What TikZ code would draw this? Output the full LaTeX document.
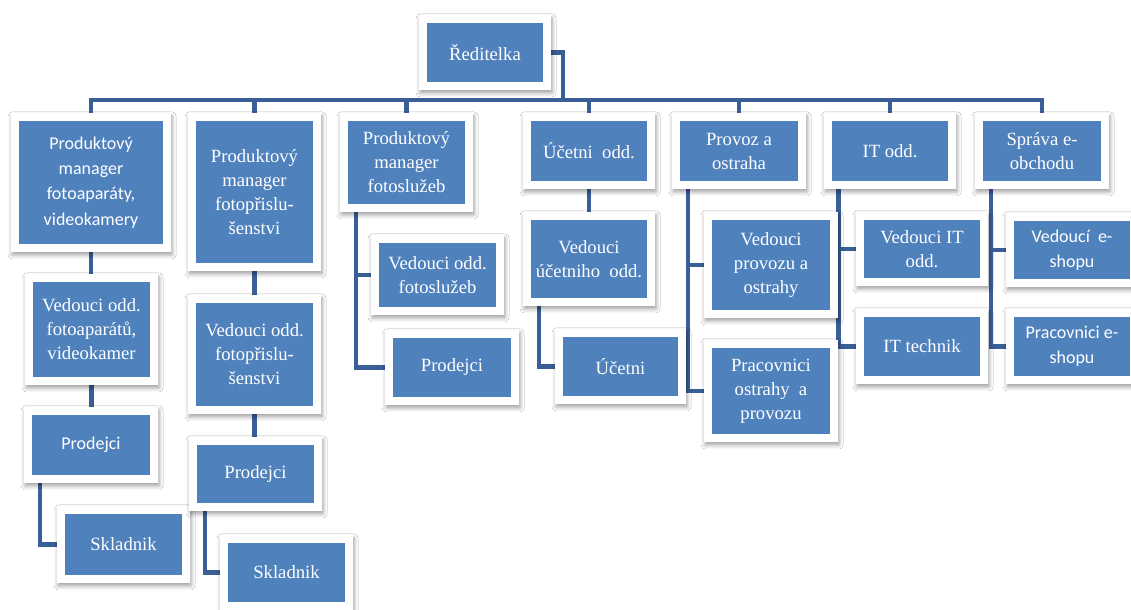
\documentclass[tikz,border=0pt]{standalone}
\usepackage{fontspec}
\setmainfont{Liberation Serif}
\newfontfamily\sansf{Carlito}
\usetikzlibrary{shadows.blur,backgrounds}
\definecolor{boxblue}{HTML}{4F81BD}
\definecolor{connblue}{HTML}{3A5E96}
\newcommand\orgnode[7]{\node[orgbox,#6,minimum width={(#4-#2+16)*0.75pt},minimum height={(#5-#3+16)*0.75pt}] (#1) at ({(#2+#4)/2},{(#3+#5)/2}) {#7};}
\tikzset{
  orgbox/.style={rectangle, fill=white, inner sep=0pt,
    align=center, text=white, font=\fontsize{14}{18}\selectfont,
    blur shadow={shadow xshift=0.8pt, shadow yshift=-2.2pt, shadow blur radius=3pt, shadow opacity=38},
    path picture={\fill[boxblue] ([shift={(6pt,6pt)}]path picture bounding box.south west) rectangle ([shift={(-6pt,-6pt)}]path picture bounding box.north east);}},
  sansbox/.style={font=\sansf\fontsize{13.5}{19}\selectfont},
  conn/.style={draw=connblue, line width=3.2pt, line join=miter},
}
\begin{document}
\begin{tikzpicture}[x=0.75pt,y=-0.75pt]
\useasboundingbox (0,0) rectangle (1131,610);
% root
\orgnode{R}{427}{23}{543}{82}{}{Ředitelka}
% column A
\orgnode{A1}{19}{121}{163}{244}{sansbox}{Produktový\\manager\\fotoaparáty,\\videokamery}
\orgnode{A2}{33}{282}{150}{377}{}{Vedouci odd.\\fotoaparátů,\\videokamer}
\orgnode{A3}{32}{415}{150}{475}{sansbox}{Prodejci}
\orgnode{A4}{65}{514}{182}{575}{}{Skladnik}
% column B
\orgnode{B1}{196}{121}{313}{263}{}{Produktový\\manager\\fotopřislu-\\šenstvi}
\orgnode{B2}{196}{303}{313}{406}{}{Vedouci odd.\\fotopřislu-\\šenstvi}
\orgnode{B3}{197}{445}{314}{503}{}{Prodejci}
\orgnode{B4}{228}{543}{345}{602}{}{Skladnik}
% column C
\orgnode{C1}{348}{121}{465}{204}{}{Produktový\\manager\\fotoslužeb}
\orgnode{C2}{379}{243}{496}{307}{}{Vedouci odd.\\fotoslužeb}
\orgnode{C3}{393}{338}{511}{397}{}{Prodejci}
% column D
\orgnode{D1}{531}{121}{647}{181}{}{Účetni\ \ odd.}
\orgnode{D2}{531}{220}{647}{298}{}{Vedouci\\účetniho\ \ odd.}
\orgnode{D3}{563}{337}{678}{396}{}{Účetni}
% column E
\orgnode{E1}{680}{121}{798}{181}{}{Provoz a\\ostraha}
\orgnode{E2}{712}{220}{830}{310}{}{Vedouci\\provozu a\\ostrahy}
\orgnode{E3}{712}{348}{830}{434}{}{Pracovnici\\ostrahy\ \ a\\provozu}
% column F
\orgnode{F1}{832}{121}{948}{181}{}{IT odd.}
\orgnode{F2}{864}{220}{980}{278}{}{Vedouci IT\\odd.}
\orgnode{F3}{864}{317}{980}{376}{}{IT technik}
% column G
\orgnode{G1}{983}{121}{1101}{181}{}{Správa e-\\obchodu}
\orgnode{G2}{1014}{221}{1130}{279}{sansbox}{Vedoucí\ \ e-\\shopu}
\orgnode{G3}{1014}{317}{1130}{376}{sansbox}{Pracovnici e-\\shopu}

\coordinate (bus) at (563,100);
\begin{pgfonlayer}{background}
  \fill[white] (0,0) rectangle (1131,610);
  \draw[conn] (R.east) -| (bus);
  \draw[conn] (A1.north) |- (bus) -| (G1.north);
  \foreach \n in {B1,C1,D1,E1,F1}{\draw[conn] (\n.north) -- (\n.north |- bus);}
  % straight drops
  \draw[conn] (A1.south) -- (A1.south |- A2.north);
  \draw[conn] (A2.south) -- (A2.south |- A3.north);
  \draw[conn] (B1.south) -- (B1.south |- B2.north);
  \draw[conn] (B2.south) -- (B2.south |- B3.north);
  \draw[conn] (D1.south) -- (D1.south |- D2.north);
  % side hangs
  \draw[conn] ([xshift=12pt]A3.south west) |- (A4.west);
  \draw[conn] ([xshift=12pt]B3.south west) |- (B4.west);
  \draw[conn] ([xshift=12pt]C1.south west) |- (C2.west);
  \draw[conn] ([xshift=12pt]C1.south west) |- (C3.west);
  \draw[conn] ([xshift=12pt]D2.south west) |- (D3.west);
  \draw[conn] ([xshift=12pt]E1.south west) |- (E2.west);
  \draw[conn] ([xshift=12pt]E1.south west) |- (E3.west);
  \draw[conn] ([xshift=11pt]F1.south west) |- (F2.west);
  \draw[conn] ([xshift=11pt]F1.south west) |- (F3.west);
  \draw[conn] ([xshift=12pt]G1.south west) |- (G2.west);
  \draw[conn] ([xshift=12pt]G1.south west) |- (G3.west);
\end{pgfonlayer}
\end{tikzpicture}
\end{document}
